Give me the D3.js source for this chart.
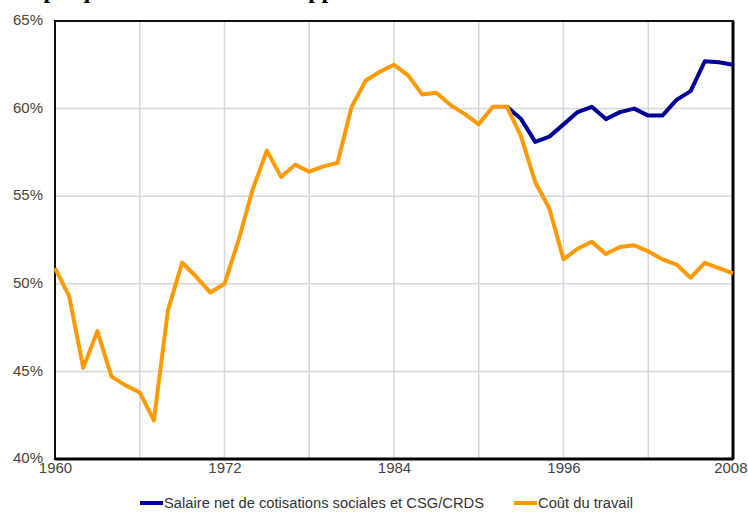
<!DOCTYPE html>
<html>
<head>
<meta charset="utf-8">
<script src="https://cdn.jsdelivr.net/npm/d3@7"></script>
<style>
  body { margin: 0; background: #fff; }
  svg { display: block; }
</style>
</head>
<body>
<svg id="chart" width="748" height="512"></svg>
<script>
// years of the series
var years = d3.range(1960, 2009);

// Coût du travail (1960-2008)
var coutTravail = [
  50.9, 49.3, 45.2, 47.3, 44.7, 44.2, 43.8, 42.2, 48.5, 51.2,
  50.4, 49.5, 50.0, 52.5, 55.4, 57.6, 56.1, 56.8, 56.4, 56.7,
  56.9, 60.1, 61.6, 62.1, 62.5, 61.9, 60.8, 60.9, 60.2, 59.7,
  59.1, 60.1, 60.1, 58.4, 55.8, 54.3, 51.4, 52.0, 52.4, 51.7,
  52.1, 52.2, 51.85, 51.4, 51.1, 50.35, 51.2, 50.9, 50.6
];

// Salaire net de cotisations sociales et CSG/CRDS (1992-2008)
var salaireYears = d3.range(1992, 2009);
var salaireNet = [
  60.1, 59.4, 58.1, 58.4, 59.1, 59.8, 60.1, 59.4, 59.8, 60.0,
  59.6, 59.6, 60.5, 61.0, 62.7, 62.65, 62.5
];

var yTicks = [40, 45, 50, 55, 60, 65];
var xLabels = [1960, 1972, 1984, 1996, 2008];
var xGrid = [1966, 1972, 1978, 1984, 1990, 1996, 2002];
var legendNames = ["Salaire net de cotisations sociales et CSG/CRDS", "Coût du travail"];

var blueColor = "#000099",
    orangeColor = "#ff9900";

var margin = {top: 21, right: 15, bottom: 53, left: 55},
    width = 748 - margin.left - margin.right,
    height = 512 - margin.top - margin.bottom;

var svg = d3.select("#chart");

// title (cut off by the top of the picture)
svg.append("text")
  .attr("x", 390)
  .attr("y", -2)
  .attr("text-anchor", "middle")
  .style("font-family", "Liberation Serif, Times New Roman, serif")
  .style("font-weight", "bold")
  .style("font-size", "24px")
  .text("Graphique 1 : évolution du rapport entre salaire net de CSG et coût salarial");

var g = svg.append("g")
  .attr("transform", "translate(" + margin.left + "," + margin.top + ")");

var x = d3.scaleLinear().domain([1960, 2008]).range([0, width]);
var y = d3.scaleLinear().domain([40, 65]).range([height, 0]);

// grid
g.append("g")
  .selectAll("line")
  .data(yTicks.slice(1, -1))
  .enter().append("line")
    .attr("x1", 0).attr("x2", width)
    .attr("y1", d => y(d)).attr("y2", d => y(d))
    .attr("stroke", "#d8d4de").attr("stroke-width", 1.5);

g.append("g")
  .selectAll("line")
  .data(xGrid)
  .enter().append("line")
    .attr("y1", 0).attr("y2", height)
    .attr("x1", d => x(d)).attr("x2", d => x(d))
    .attr("stroke", "#d8d4de").attr("stroke-width", 1.5);

// axes
var yAxis = d3.axisLeft(y).tickValues(yTicks).tickSize(0).tickPadding(12)
  .tickFormat(d => d + "%");
var yG = g.append("g").call(yAxis);
yG.select(".domain").remove();
yG.selectAll("text")
  .attr("dy", "0.25em")
  .style("font-family", "Liberation Sans, Arial, sans-serif")
  .style("font-size", "15px")
  .style("fill", "#444");

var xAxis = d3.axisBottom(x).tickValues(xLabels).tickSize(0).tickPadding(3)
  .tickFormat(d3.format("d"));
var xG = g.append("g").attr("transform", "translate(0," + height + ")").call(xAxis);
xG.select(".domain").remove();
xG.selectAll("text")
  .style("font-family", "Liberation Sans, Arial, sans-serif")
  .style("font-size", "15px")
  .style("fill", "#444");
// last label sits against the right edge
xG.selectAll(".tick").filter(d => d === 2008).select("text")
  .attr("text-anchor", "end")
  .attr("x", 14);

// frame
g.append("rect")
  .attr("width", width).attr("height", height)
  .attr("fill", "none").attr("stroke", "#111").attr("stroke-width", 2);
g.append("line")
  .attr("x1", 0).attr("x2", width).attr("y1", height).attr("y2", height)
  .attr("stroke", "#000").attr("stroke-width", 3);
g.append("line")
  .attr("x1", width).attr("x2", width).attr("y1", 0).attr("y2", height)
  .attr("stroke", "#000").attr("stroke-width", 3);

// lines
var line = d3.line()
  .x(d => x(d[0]))
  .y(d => y(d[1]));

g.append("path")
  .datum(d3.zip(salaireYears, salaireNet))
  .attr("fill", "none")
  .attr("stroke", blueColor)
  .attr("stroke-width", 4)
  .attr("stroke-linejoin", "round")
  .attr("d", line);

g.append("path")
  .datum(d3.zip(years, coutTravail))
  .attr("fill", "none")
  .attr("stroke", orangeColor)
  .attr("stroke-width", 4)
  .attr("stroke-linejoin", "round")
  .attr("d", line);

// legend
var legend = svg.append("g").attr("transform", "translate(0,503)");
var legendX = [140, 514];
var legendColors = [blueColor, orangeColor];
var legendLen = [320, 95];
legendNames.forEach(function(name, i) {
  legend.append("line")
    .attr("x1", legendX[i]).attr("x2", legendX[i] + 23)
    .attr("y1", 0).attr("y2", 0)
    .attr("stroke", legendColors[i]).attr("stroke-width", 4);
  legend.append("text")
    .attr("x", legendX[i] + 24)
    .attr("y", 5)
    .attr("textLength", legendLen[i])
    .attr("lengthAdjust", "spacingAndGlyphs")
    .style("font-family", "Liberation Sans, Arial, sans-serif")
    .style("font-size", "14px")
    .style("fill", "#333")
    .text(name);
});
</script>
</body>
</html>
